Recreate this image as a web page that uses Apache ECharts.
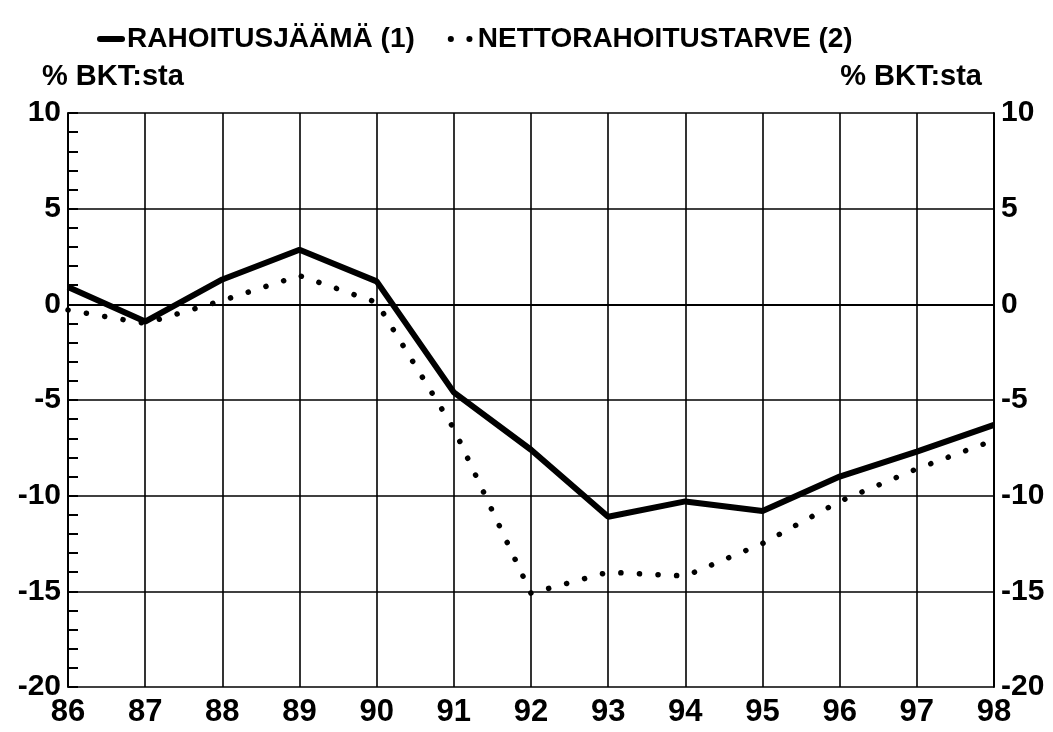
<!DOCTYPE html>
<html lang="fi">
<head>
    <meta charset="UTF-8">
    <title>Rahoitusjäämä</title>
    <script src="https://cdn.jsdelivr.net/npm/echarts@6/dist/echarts.min.js"></script>
    <style>
        html, body { margin: 0; padding: 0; background: #fff; }
        #chart { width: 1053px; height: 732px; }
    </style>
</head>
<body>
    <div id="chart"></div>
    <script>
        // years on the x axis
        var years = ['86', '87', '88', '89', '90', '91', '92', '93', '94', '95', '96', '97', '98'];
        // % BKT:sta
        var rahoitusjaama = [0.9, -0.9, 1.3, 2.85, 1.2, -4.6, -7.6, -11.1, -10.3, -10.8, -9.0, -7.7, -6.3];
        var nettorahoitustarve = [-0.3, -1.0, 0.2, 1.5, 0.1, -6.5, -15.1, -14.0, -14.2, -12.5, -10.3, -8.6, -7.1];
        var seriesNames = ['RAHOITUSJÄÄMÄ (1)', 'NETTORAHOITUSTARVE (2)'];
        var unitLabel = '% BKT:sta';

        var boldFont = '"Liberation Sans", Arial, sans-serif';

        var myChart = echarts.init(document.getElementById('chart'));
        var option = {
            backgroundColor: '#fff',
            animation: false,
            title: [
                {
                    text: unitLabel, left: 37, top: 57,
                    textStyle: { fontFamily: boldFont, fontWeight: 'bold', fontSize: 29, color: '#000' }
                },
                {
                    text: unitLabel, right: 66, top: 57,
                    textStyle: { fontFamily: boldFont, fontWeight: 'bold', fontSize: 29, color: '#000' }
                }
            ],
            legend: {
                left: 92,
                top: 20,
                itemWidth: 22,
                itemHeight: 12,
                itemGap: 33,
                data: seriesNames,
                itemStyle: { opacity: 0 },
                lineStyle: { width: 6, cap: 'round' },
                textStyle: { fontFamily: boldFont, fontWeight: 'bold', fontSize: 28, color: '#000' }
            },
            grid: {
                left: 68,
                right: 59,
                top: 113,
                bottom: 45
            },
            xAxis: {
                type: 'category',
                data: years,
                boundaryGap: false,
                axisLine: { show: true, lineStyle: { color: '#000', width: 2 } },
                axisTick: { show: false },
                axisLabel: {
                    margin: 10,
                    color: '#000',
                    fontFamily: boldFont,
                    fontWeight: 'bold',
                    fontSize: 31
                },
                splitLine: { show: true, lineStyle: { color: '#000', width: 1.6 } }
            },
            yAxis: [
                {
                    type: 'value',
                    min: -20,
                    max: 10,
                    interval: 5,
                    axisLine: { show: true, lineStyle: { color: '#000', width: 2 } },
                    axisTick: { show: true, inside: true, length: 10, lineStyle: { color: '#000', width: 2 } },
                    minorTick: { show: true, splitNumber: 5, length: 10, lineStyle: { color: '#000', width: 2 } },
                    axisLabel: {
                        margin: 7,
                        color: '#000',
                        fontFamily: boldFont,
                        fontWeight: 'bold',
                        fontSize: 30
                    },
                    splitLine: { show: true, lineStyle: { color: '#000', width: 1.6 } }
                },
                {
                    type: 'value',
                    min: -20,
                    max: 10,
                    interval: 5,
                    position: 'right',
                    axisLine: { show: true, lineStyle: { color: '#000', width: 2 } },
                    axisTick: { show: false },
                    axisLabel: {
                        margin: 7,
                        color: '#000',
                        fontFamily: boldFont,
                        fontWeight: 'bold',
                        fontSize: 30
                    },
                    splitLine: { show: false }
                }
            ],
            series: [
                {
                    name: seriesNames[0],
                    type: 'line',
                    data: rahoitusjaama,
                    symbol: 'none',
                    color: '#000',
                    lineStyle: { color: '#000', width: 6 }
                },
                {
                    name: seriesNames[1],
                    type: 'line',
                    data: nettorahoitustarve,
                    symbol: 'none',
                    color: '#000',
                    lineStyle: { color: '#000', width: 5.5, type: [0.1, 18.5], cap: 'round' }
                }
            ]
        };
        myChart.setOption(option);
    </script>
</body>
</html>
